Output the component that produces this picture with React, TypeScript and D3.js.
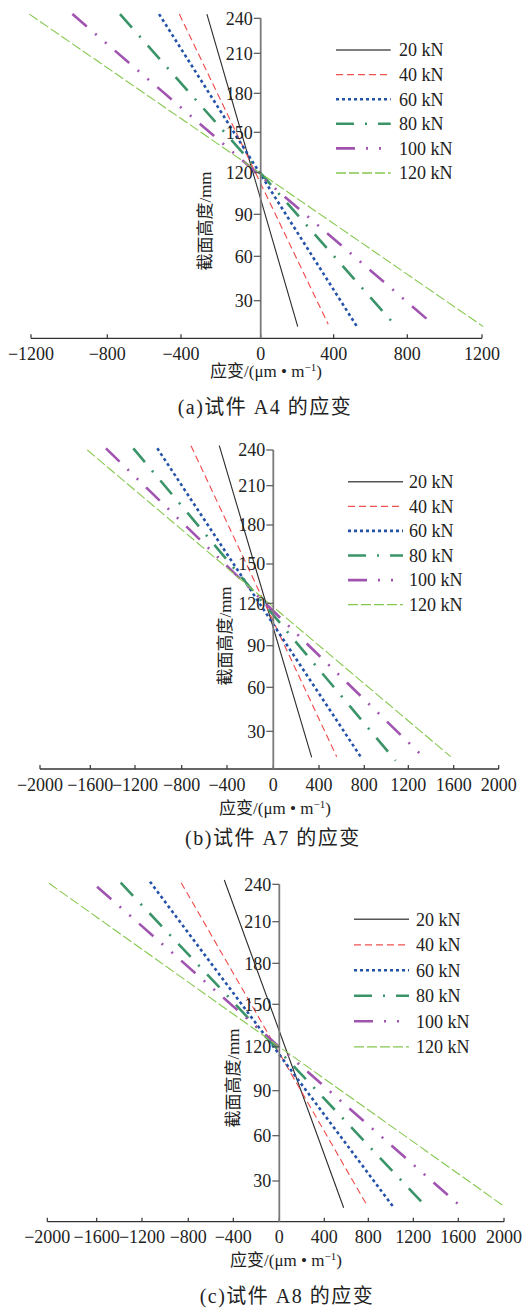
import React from "react";
import * as d3 from "d3";

// ---------- data ----------
const loads = ["20 kN", "40 kN", "60 kN", "80 kN", "100 kN", "120 kN"];

// section height (mm) at the top and bottom end of each measured strain line
const a4Heights = [[243.6, 9.3], [243.6, 11.2], [243.6, 8.5], [243.6, 13.2], [243.6, 13.2], [243.6, 9.3]];
// strain (μm/m) at those two ends
const a4Strains = [[-270, 203], [-409, 370], [-519, 530], [-731, 717], [-983, 922], [-1209, 1207]];

const a7Heights = [[243.6, 9.3], [243.6, 9.8], [241.4, 8.5], [241.4, 6.6], [241.4, 10.9], [240, 9.8]];
const a7Strains = [[-468, 336], [-718, 556], [-1009, 777], [-1215, 1085], [-1460, 1318], [-1624, 1574]];

const a8Heights = [[243.4, 10.3], [241.3, 11.1], [242.1, 9.9], [241.3, 11.1], [238.1, 11.1], [240.8, 12.3]];
const a8Strains = [[-480, 576], [-862, 795], [-1131, 1031], [-1388, 1313], [-1597, 1624], [-1986, 1985]];

const xTicksA4 = [-1200, -800, -400, 0, 400, 800, 1200];
const xTicksWide = [-2000, -1600, -1200, -800, -400, 0, 400, 800, 1200, 1600, 2000];
const yTicks = [0, 30, 60, 90, 120, 150, 180, 210, 240];

// ---------- styles ----------
const seriesStyle = [
  { color: "#2a2a2a", width: 1.1, dash: "" },
  { color: "#f04848", width: 1.1, dash: "7,4" },
  { color: "#2452a8", width: 2.6, dash: "3,3" },
  { color: "#3a9468", width: 2.6, dash: "18,11,2,11" },
  { color: "#a054b0", width: 2.6, dash: "19,11,2,11,2,11" },
  { color: "#86c850", width: 1.1, dash: "10,3" },
];
const legendStyle = [
  { color: "#555", width: 1.6 },
  { color: "#f05050", width: 1.3 },
  { color: "#2452a8", width: 2.6 },
  { color: "#3a9468", width: 2.6 },
  { color: "#a054b0", width: 2.6 },
  { color: "#86c850", width: 1.3 },
];

const SERIF = "'Liberation Serif', 'Noto Sans CJK SC', serif";
const CJK = "'Liberation Serif', 'Noto Sans CJK SC', sans-serif";

const panels = [
  {
    caption: "(a)试件 A4 的应变",
    heights: a4Heights,
    strains: a4Strains,
    xTicks: xTicksA4,
    xPx: [31, 107.3, 181, 260.7, 333.7, 407.3, 482],
    yPx: [338.3, 300.7, 256.3, 214.3, 172.7, 132.3, 93.3, 53.3, 18.3],
    legend: { x0: 336, x1: 390.7, tx: 399, y0: 50, dy: 24.6 },
    yLabel: { x: 205, y: 221 },
    xLabel: { x: 266, y: 371 },
    cap: { x: 265, y: 407 },
  },
  {
    caption: "(b)试件 A7 的应变",
    heights: a7Heights,
    strains: a7Strains,
    xTicks: xTicksWide,
    xPx: [40, 90.3, 135, 181.7, 227, 273.3, 319, 364.3, 408.3, 453.7, 498.7],
    yPx: [769, 731.3, 687.3, 645.7, 603.3, 564, 525, 485.7, 450],
    legend: { x0: 348, x1: 403, tx: 409, y0: 481.7, dy: 24.6 },
    yLabel: { x: 225, y: 636 },
    xLabel: { x: 275, y: 808 },
    cap: { x: 273, y: 838 },
  },
  {
    caption: "(c)试件 A8 的应变",
    heights: a8Heights,
    strains: a8Strains,
    xTicks: xTicksWide,
    xPx: [47.3, 96.7, 142, 188.3, 233.3, 279.3, 324.3, 368.3, 413.3, 458.3, 504],
    yPx: [1221.7, 1181, 1135.7, 1090.7, 1046.7, 1004.3, 963.3, 921.7, 884.3],
    legend: { x0: 354, x1: 409, tx: 416, y0: 919.3, dy: 25.5 },
    yLabel: { x: 233, y: 1078 },
    xLabel: { x: 286, y: 1260 },
    cap: { x: 287, y: 1296 },
  },
];

const fmt = (v: number) => (v < 0 ? "\u2212" + Math.abs(v) : String(v));

function Panel({ p }: { p: (typeof panels)[number] }) {
  const x = d3.scaleLinear().domain(p.xTicks).range(p.xPx);
  const y = d3.scaleLinear().domain(yTicks).range(p.yPx);
  const line = d3
    .line<[number, number]>()
    .x((d) => x(d[1]))
    .y((d) => y(d[0]));
  const x0 = x(0);
  const y0 = y(0);
  const xMin = x(p.xTicks[0]);
  const xMax = x(p.xTicks[p.xTicks.length - 1]);

  return (
    <g>
      {/* series */}
      {loads.map((name, i) => {
        const pts: [number, number][] = p.heights[i].map((h, k) => [h, p.strains[i][k]]);
        const st = seriesStyle[i];
        return (
          <path
            key={name}
            d={line(pts) || ""}
            fill="none"
            stroke={st.color}
            strokeWidth={st.width}
            strokeDasharray={st.dash || undefined}
          />
        );
      })}
      {/* x axis */}
      <line x1={xMin} x2={xMax} y1={y0} y2={y0} stroke="#333" strokeWidth={1.3} />
      {p.xTicks.map((t) => (
        <g key={"xt" + t}>
          <line x1={x(t)} x2={x(t)} y1={y0} y2={y0 - 4} stroke="#333" strokeWidth={1.2} />
          <text x={x(t)} y={y0 + 21.5} textAnchor="middle" fontFamily={SERIF} fontSize={18} fill="#222">
            {fmt(t)}
          </text>
        </g>
      ))}
      {/* y axis */}
      <line x1={x0} x2={x0} y1={y0} y2={y(240)} stroke="#7a7a7a" strokeWidth={1.8} />
      {yTicks
        .filter((t) => t > 0)
        .map((t) => (
          <g key={"yt" + t}>
            <line x1={x0 - 7} x2={x0} y1={y(t)} y2={y(t)} stroke="#555" strokeWidth={1.2} />
            <text x={x0 - 8} y={y(t) + 6.3} textAnchor="end" fontFamily={SERIF} fontSize={18} fill="#222">
              {t}
            </text>
          </g>
        ))}
      {/* axis labels */}
      <text
        transform={`translate(${p.yLabel.x},${p.yLabel.y}) rotate(-90)`}
        textAnchor="middle"
        dominantBaseline="central"
        fontFamily={CJK}
        fontSize={17}
        fill="#222"
      >
        截面高度/mm
      </text>
      <text
        x={p.xLabel.x}
        y={p.xLabel.y + 6}
        textAnchor="middle"
        fontFamily={CJK}
        fontSize={17}
        fill="#222"
      >
        应变/(μm • m
        <tspan fontSize={11} dy={-6}>
          −1
        </tspan>
        <tspan dy={6}>)</tspan>
      </text>
      <text
        x={p.cap.x}
        y={p.cap.y + 7}
        textAnchor="middle"
        fontFamily={CJK}
        fontSize={20}
        letterSpacing={1.5}
        fill="#222"
      >
        {p.caption}
      </text>
      {/* legend */}
      {loads.map((name, i) => {
        const ly = p.legend.y0 + i * p.legend.dy;
        const st = legendStyle[i];
        return (
          <g key={"lg" + name}>
            <line
              x1={p.legend.x0}
              x2={p.legend.x1}
              y1={ly}
              y2={ly}
              stroke={st.color}
              strokeWidth={st.width}
              strokeDasharray={seriesStyle[i].dash || undefined}
            />
            <text x={p.legend.tx} y={ly + 6.3} fontFamily={SERIF} fontSize={18} fill="#222">
              {name}
            </text>
          </g>
        );
      })}
    </g>
  );
}

export default function App() {
  return (
    <div style={{ position: "absolute", left: 0, top: 0 }}>
      <svg width={525} height={1308} viewBox="0 0 525 1308" style={{ display: "block", background: "#fff" }}>
        {panels.map((p) => (
          <Panel key={p.caption} p={p} />
        ))}
      </svg>
    </div>
  );
}
